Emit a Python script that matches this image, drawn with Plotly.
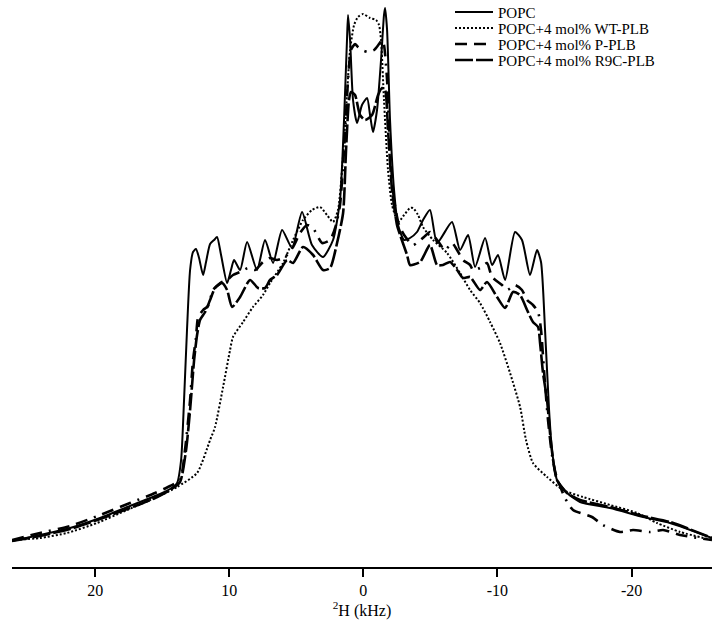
import plotly.graph_objects as go

# ---- data (x in kHz, intensity in arbitrary units) ----
popc_khz = [26.20, 24.11, 21.87, 19.63, 17.40, 15.53, 14.41, 13.89, 13.59, 13.37, 13.15, 12.92, 12.70, 12.48,
            12.25, 11.95, 11.73, 11.43, 11.13, 10.91, 10.61, 10.16, 9.87, 9.64, 9.19, 8.67, 7.93, 7.33, 6.73,
            6.06, 5.32, 4.57, 3.83, 3.01, 2.26, 1.74, 1.44, 1.22, 1.14, 0.99, 0.77, 0.47, 0.10, -0.28, -0.50,
            -0.72, -1.02, -1.32, -1.54, -1.62, -1.77, -1.99, -2.29, -2.59, -3.04, -3.48, -4.00, -4.45, -4.97,
            -5.50, -6.61, -7.21, -7.81, -8.33, -9.08, -9.60, -10.04, -10.57, -11.31, -11.83, -12.43, -12.95,
            -13.25, -13.55, -13.85, -14.07, -14.44, -15.19, -16.16, -18.40, -20.86, -22.87, -26.00]
popc_int = [26, 32, 39, 49, 61, 71, 78, 84, 107, 167, 237, 297, 315, 318,
            309, 292, 305, 323, 327, 330, 312, 284, 297, 307, 297, 325, 297, 327, 304,
            337, 319, 355, 322, 310, 327, 367, 447, 527, 552, 527, 467, 444, 462, 469, 452,
            435, 457, 507, 552, 559, 537, 447, 377, 342, 327, 329, 335, 347, 357,
            324, 345, 317, 332, 300, 329, 302, 312, 287, 335, 327, 292, 317,
            305, 237, 157, 117, 87, 74, 65, 59, 50, 44, 29]

wt_khz = [26.20, 24.11, 22.10, 19.86, 17.62, 15.38, 13.89, 12.40, 11.43, 11.06, 10.46, 9.94, 9.72, 8.97,
          8.23, 7.48, 6.96, 5.99, 5.24, 4.50, 3.83, 3.23, 2.71, 2.26, 1.89, 1.59, 1.29, 0.99, 0.69, 0.40,
          0.02, -0.50, -0.95, -1.17, -1.32, -1.54, -1.84, -2.14, -2.59, -3.04, -3.48, -3.71, -4.08, -4.45,
          -5.20, -6.24, -7.21, -7.96, -8.70, -9.45, -10.19, -10.94, -11.69, -12.13, -12.65, -13.70, -14.89,
          -16.38, -18.40, -20.41, -21.90, -23.62, -26.00]
wt_int = [27, 29, 34, 44, 57, 70, 80, 94, 127, 140, 180, 217, 230, 245,
          260, 272, 284, 304, 327, 347, 357, 360, 352, 345, 357, 397, 457, 517, 542, 550,
          553, 549, 547, 542, 527, 467, 397, 362, 345, 352, 359, 359, 352, 340,
          327, 314, 294, 277, 264, 245, 224, 194, 160, 127, 104, 90, 77,
          70, 62, 54, 44, 35, 27]

p_khz = [26.20, 24.11, 21.87, 19.63, 17.40, 15.53, 14.41, 13.67, 13.30, 12.92, 12.70, 12.48, 12.33, 11.95,
         11.58, 11.21, 10.84, 10.54, 10.16, 9.72, 9.19, 8.60, 8.08, 7.48, 6.96, 6.44, 5.84, 5.24, 4.72, 4.20,
         3.75, 3.08, 2.48, 2.04, 1.74, 1.44, 1.14, 0.92, 0.62, 0.40, 0.10, -0.35, -0.80, -1.17, -1.39, -1.54,
         -1.77, -1.99, -2.29, -2.66, -3.04, -3.71, -4.60, -4.97, -5.50, -6.09, -6.61, -6.99, -7.43, -7.96,
         -8.18, -8.70, -9.22, -9.60, -10.34, -10.72, -11.31, -11.83, -12.21, -12.65, -13.03, -13.25, -13.47,
         -13.77, -14.07, -14.37, -15.04, -15.64, -17.05, -17.87, -19.14, -20.11, -21.38, -22.35, -23.62, -26.00]
p_int = [27, 34, 41, 52, 64, 74, 81, 87, 117, 167, 207, 229, 249, 257,
         261, 277, 282, 285, 287, 292, 295, 299, 297, 305, 309, 307, 310, 320, 334, 342,
         339, 324, 327, 342, 362, 417, 487, 517, 523, 520, 517, 515, 517, 523, 527, 522,
         487, 417, 367, 342, 332, 322, 331, 335, 327, 317, 324, 317, 307, 302,
         297, 299, 304, 290, 282, 277, 282, 277, 267, 262, 255, 237, 197,
         147, 112, 92, 69, 57, 50, 42, 35, 37, 35, 37, 32, 27]

r9c_khz = [26.20, 24.11, 21.87, 19.63, 17.40, 15.53, 14.41, 13.67, 13.22, 12.92, 12.62, 12.40, 12.18, 11.80,
           11.43, 11.06, 10.54, 10.16, 9.79, 9.19, 8.45, 7.85, 7.33, 6.96, 6.44, 5.69, 5.24, 4.50, 3.75, 3.01,
           2.48, 1.96, 1.51, 1.29, 1.07, 0.92, 0.62, 0.25, -0.13, -0.65, -1.10, -1.39, -1.62, -1.84, -2.14,
           -2.51, -2.74, -3.26, -3.48, -4.23, -4.97, -5.50, -5.94, -6.47, -6.99, -7.43, -7.96, -8.70, -9.22,
           -9.97, -10.57, -11.16, -11.69, -12.21, -12.65, -13.03, -13.18, -13.40, -13.70, -13.92, -14.15,
           -14.44, -15.19, -16.16, -18.40, -20.86, -22.87, -26.00]
r9c_int = [26, 31, 38, 48, 59, 69, 77, 85, 117, 157, 207, 232, 247, 255,
           267, 279, 284, 277, 260, 270, 287, 279, 279, 287, 292, 307, 304, 320, 312, 297,
           299, 324, 354, 417, 467, 475, 472, 452, 447, 452, 472, 479, 477, 437, 377,
           342, 332, 312, 302, 305, 322, 302, 302, 305, 297, 289, 290, 277, 285,
           270, 259, 275, 272, 257, 245, 240, 224, 194, 167, 134, 107,
           87, 74, 67, 60, 51, 45, 29]

series_names = ["POPC", "POPC+4 mol% WT-PLB", "POPC+4 mol% P-PLB", "POPC+4 mol% R9C-PLB"]
tick_vals = [20, 10, 0, -10, -20]
tick_text = ["20", "10", "0", "-10", "-20"]

FONT = "Liberation Serif, Times New Roman, serif"
W, H = 726, 623
ML, MR, MT, MB = 12, 14, 0, 56
PW, PH = W - ML - MR, H - MT - MB

styles = [
    dict(dash="solid", width=2.0),
    dict(dash="2px,2px", width=2.0),
    dict(dash="12px,7px,12px,7px,2px,7px", width=2.6),
    dict(dash="18px,3px", width=2.6),
]

fig = go.Figure()
for name, xs, ys, st in zip(series_names,
                            [popc_khz, wt_khz, p_khz, r9c_khz],
                            [popc_int, wt_int, p_int, r9c_int], styles):
    fig.add_trace(go.Scatter(x=xs, y=ys, mode="lines", name=name, showlegend=False,
                             line=dict(color="black", width=st["width"], dash=st["dash"],
                                       shape="spline", smoothing=0.6)))

# manual compact legend (paper coordinates derived from pixel layout)
def px2paper_x(px):
    return (px - ML) / PW

def px2paper_y(py):
    return (H - MB - py) / PH

leg_rows = [12, 28, 44, 60]
for name, st, ry in zip(series_names, styles, leg_rows):
    fig.add_shape(type="line", xref="paper", yref="paper",
                  x0=px2paper_x(455), x1=px2paper_x(493), y0=px2paper_y(ry), y1=px2paper_y(ry),
                  line=dict(color="black", width=st["width"], dash=st["dash"]))
    fig.add_annotation(xref="paper", yref="paper", x=px2paper_x(497), y=px2paper_y(ry),
                       xanchor="left", yanchor="middle", text=name, showarrow=False,
                       height=15, borderpad=0,
                       font=dict(family=FONT, size=15, color="black"))

fig.update_layout(
    width=W, height=H,
    margin=dict(l=ML, r=MR, t=MT, b=MB),
    paper_bgcolor="white", plot_bgcolor="white",
    font=dict(family=FONT, size=16, color="black"),
    showlegend=False,
    xaxis=dict(range=[26.2, -26.0], showline=True, linecolor="black", linewidth=1.5,
               ticks="outside", ticklen=8, tickwidth=1.5, tickcolor="black",
               tickvals=tick_vals, ticktext=tick_text, showgrid=False, zeroline=False,
               tickfont=dict(size=16, family=FONT),
               title=dict(text="<sup>2</sup>H (kHz)", font=dict(size=16, family=FONT), standoff=2)),
    yaxis=dict(range=[0, 567], visible=False, showgrid=False, zeroline=False),
)

fig.write_html("out.html", config={"displayModeBar": False},
               post_script="document.body.style.margin='0';")
